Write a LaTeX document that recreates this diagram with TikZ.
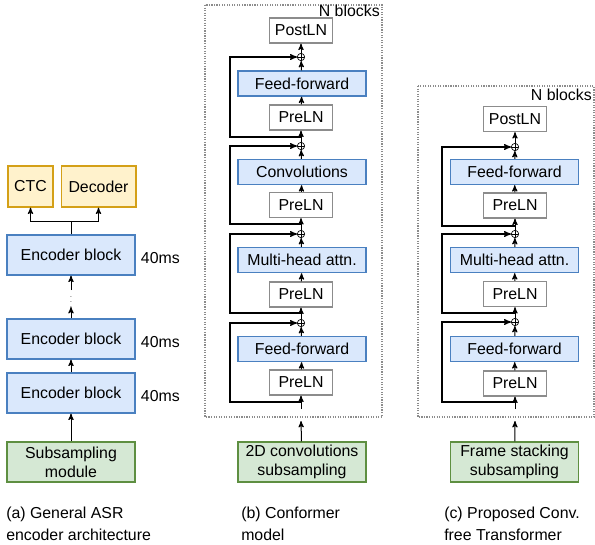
\documentclass[tikz,border=0pt]{standalone}
\usepackage{fontspec}
\setmainfont{Liberation Sans}
\usepackage{tikz}
\usetikzlibrary{arrows}
\usetikzlibrary{positioning}

\definecolor{blkfill}{HTML}{DAE8FC}
\definecolor{blkdraw}{HTML}{4A80C0}
\definecolor{subfill}{HTML}{D5E8D4}
\definecolor{subdraw}{HTML}{5E8F41}
\definecolor{outfill}{HTML}{FFF2CC}
\definecolor{outdraw}{HTML}{D4A017}
\definecolor{lndraw}{HTML}{8C8C8C}

\tikzset{
 box/.style={draw, line width=1pt, inner sep=0, align=center, font=\fontsize{11.9}{14}\selectfont},
 blk/.style={box, draw=blkdraw, fill=blkfill, minimum width=96pt, minimum height=18.75pt},
 enc/.style={blk, minimum height=30pt},
 sub/.style={box, draw=subdraw, fill=subfill, minimum width=96pt, minimum height=30pt},
 outb/.style={box, draw=outdraw, fill=outfill, minimum height=30.75pt},
 ln/.style={box, draw=lndraw, fill=white, minimum width=47pt, minimum height=18.75pt},
 addop/.style={circle, draw, minimum size=5.5pt, inner sep=0, line width=0.5pt,
   path picture={\draw[line width=0.5pt] (path picture bounding box.north) -- (path picture bounding box.south)
   (path picture bounding box.west) -- (path picture bounding box.east);}},
 arr/.style={->, >=stealth', line width=0.75pt},
 skip/.style={arr, line width=0.9pt},
 lbl/.style={inner sep=0, font=\fontsize{11.9}{16.5}\selectfont, align=left},
 frame/.style={lndraw, densely dotted, line width=0.9pt}
}

\begin{document}
\begin{tikzpicture}[x=0.75pt, y=-0.75pt]
\useasboundingbox (0,0) rectangle (595,544);

% (a) general encoder
\node[outb, minimum width=33.75pt] (ctc) at (30.5,186.5) {CTC};
\node[outb, minimum width=56pt] (dec) at (98.5,186.5) {Decoder};
\node[enc] (enc1) at (71,255) {Encoder block};
\node[enc] (enc2) at (71,339) {Encoder block};
\node[enc] (enc3) at (71,393) {Encoder block};
\node[sub] (subA) at (71,462) {Subsampling\\module};
\foreach \e in {enc1,enc2,enc3} {
 \node[lbl, anchor=west] (\e-t) at ([xshift=3.75pt, yshift=-2.25pt]\e.east) {40ms};
}
\coordinate (split) at (71,221);
\coordinate (dotT) at (71,290);
\coordinate (dotB) at (71,307);
\node[inner sep=0, font=\tiny] (dots) at (71,298) {$\vdots$};
\draw[line width=0.75pt] (enc1) -- (split);
\draw[arr] (split) -| (ctc);
\draw[arr] (split) -| (dec);
\draw[arr] (dotT) -- (enc1);
\draw[arr] (enc2) -- (dotB);
\draw[arr] (enc3) -- (enc2);
\draw[arr] (subA) -- (enc3);
\node[lbl, anchor=west] (capA) at (6,524) {(a) General ASR\\encoder architecture};

% (b) conformer
\draw[frame] (205,5) rectangle (382,417);
\node[lbl, anchor=east] (nB) at (380,11) {N blocks};
\node[ln] (postB) at (301,30.5) {PostLN};
\node[addop] (addB4) at (301,57) {};
\node[blk] (ffB2) at (302,83.5) {Feed-forward};
\node[ln] (lnB4) at (301,117.5) {PreLN};
\node[addop] (addB3) at (301,146) {};
\node[blk] (convB) at (302,172) {Convolutions};
\node[ln] (lnB3) at (301,205) {PreLN};
\node[addop] (addB2) at (301,234) {};
\node[blk] (mhaB) at (302,260) {Multi-head attn.};
\node[ln] (lnB2) at (301,294.5) {PreLN};
\node[addop] (addB1) at (301,323) {};
\node[blk] (ffB1) at (302,349) {Feed-forward};
\node[ln] (lnB1) at (301,382.5) {PreLN};
\node[sub] (subB) at (302,462) {2D convolutions\\subsampling};
\coordinate (sbx) at (230,0);
\coordinate (jB3) at (301,137);
\coordinate (jB2) at (301,224);
\coordinate (jB1) at (301,313);
\coordinate (jB0) at (301,402);
\coordinate (botB) at (301,409);
\coordinate (inB) at (301,421);
\draw[arr] (addB4) -- (postB);
\draw[arr] (ffB2) -- (addB4);
\draw[arr] (lnB4) -- (ffB2);
\draw[arr] (addB3) -- (lnB4);
\draw[arr] (convB) -- (addB3);
\draw[arr] (lnB3) -- (convB);
\draw[arr] (addB2) -- (lnB3);
\draw[arr] (mhaB) -- (addB2);
\draw[arr] (lnB2) -- (mhaB);
\draw[arr] (addB1) -- (lnB2);
\draw[arr] (ffB1) -- (addB1);
\draw[arr] (lnB1) -- (ffB1);
\draw[arr] (botB) -- (lnB1);
\draw[arr] (subB) -- (inB);
\draw[skip] (jB3) -- (jB3 -| sbx) |- (addB4.west);
\draw[skip] (jB2) -- (jB2 -| sbx) |- (addB3.west);
\draw[skip] (jB1) -- (jB1 -| sbx) |- (addB2.west);
\draw[skip] (jB0) -- (jB0 -| sbx) |- (addB1.west);
\node[lbl, anchor=west] (capB) at (241,524) {(b) Conformer\\model};

% (c) conv. free transformer
\draw[frame] (418,86) rectangle (594,417);
\node[lbl, anchor=east] (nC) at (592,95) {N blocks};
\node[ln] (postC) at (515,119) {PostLN};
\node[addop] (addC3) at (515,147) {};
\node[blk] (ffC2) at (514.5,172) {Feed-forward};
\node[ln] (lnC3) at (515,205.5) {PreLN};
\node[addop] (addC2) at (515,234) {};
\node[blk] (mhaC) at (514.5,260) {Multi-head attn.};
\node[ln] (lnC2) at (515,294) {PreLN};
\node[addop] (addC1) at (515,322) {};
\node[blk] (ffC1) at (514.5,349) {Feed-forward};
\node[ln] (lnC1) at (515,383.5) {PreLN};
\node[sub] (subC) at (514.5,462) {Frame stacking\\subsampling};
\coordinate (scx) at (442,0);
\coordinate (jC2) at (515,226);
\coordinate (jC1) at (515,313);
\coordinate (jC0) at (515,402);
\coordinate (botC) at (515,409);
\coordinate (inC) at (515,421);
\draw[arr] (addC3) -- (postC);
\draw[arr] (ffC2) -- (addC3);
\draw[arr] (lnC3) -- (ffC2);
\draw[arr] (addC2) -- (lnC3);
\draw[arr] (mhaC) -- (addC2);
\draw[arr] (lnC2) -- (mhaC);
\draw[arr] (addC1) -- (lnC2);
\draw[arr] (ffC1) -- (addC1);
\draw[arr] (lnC1) -- (ffC1);
\draw[arr] (botC) -- (lnC1);
\draw[arr] (subC) -- (inC);
\draw[skip] (jC2) -- (jC2 -| scx) |- (addC3.west);
\draw[skip] (jC1) -- (jC1 -| scx) |- (addC2.west);
\draw[skip] (jC0) -- (jC0 -| scx) |- (addC1.west);
\node[lbl, anchor=west] (capC) at (444,524) {(c) Proposed Conv.\\free Transformer};
\end{tikzpicture}
\end{document}
